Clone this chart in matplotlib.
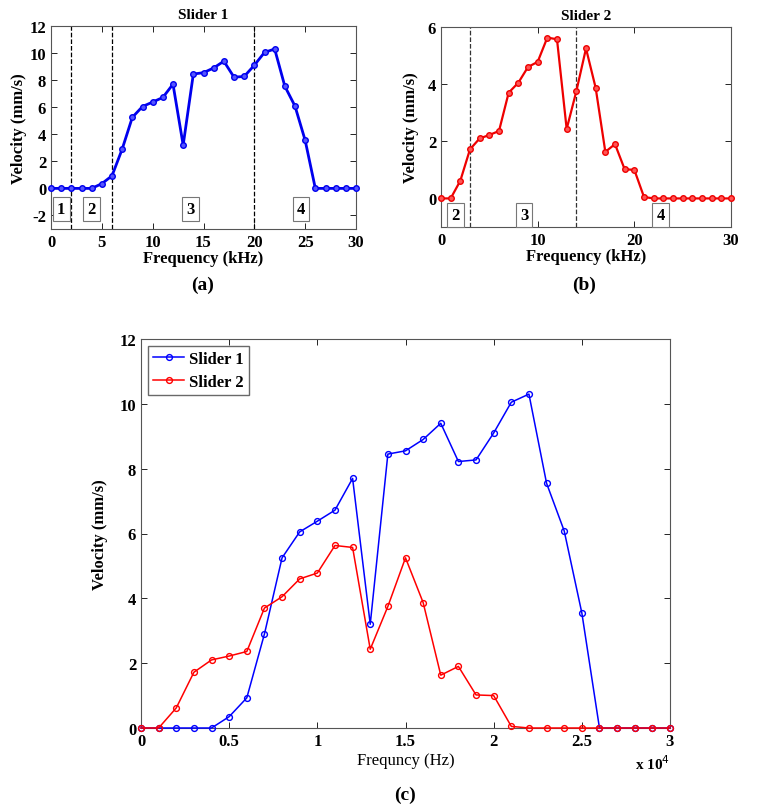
import numpy as np
import matplotlib.pyplot as plt

plt.rcParams['font.family'] = ['Liberation Serif', 'DejaVu Serif']
plt.rcParams['axes.unicode_minus'] = False

# frequency (kHz)
freq = np.arange(0, 31, 1)
slider1 = [0, 0, 0, 0, 0, 0.35, 0.93, 2.9, 5.25, 6.05, 6.38, 6.72, 7.7, 3.2, 8.45,
           8.55, 8.9, 9.4, 8.22, 8.27, 9.1, 10.05, 10.3, 7.55, 6.08, 3.55, 0, 0, 0, 0, 0]
slider2 = [0, 0, 0.62, 1.72, 2.1, 2.22, 2.36, 3.7, 4.05, 4.6, 4.78, 5.63, 5.57, 2.43,
           3.75, 5.25, 3.87, 1.63, 1.9, 1.02, 1.0, 0.05, 0, 0, 0, 0, 0, 0, 0, 0, 0]

s1_bounds = [2, 6, 20]
s1_regions = ['1', '2', '3', '4']
s1_region_x = [1, 4, 13.7, 24.6]
s2_bounds = [3, 14]
s2_regions = ['2', '3', '4']
s2_region_x = [1.5, 8.6, 22.7]

W, H = 767, 812
fig = plt.figure(figsize=(W / 100, H / 100), dpi=100)


def box(l, t, r, b):
    return [l / W, 1 - b / H, (r - l) / W, (b - t) / H]


def style(ax, fs):
    ax.tick_params(direction='in', top=True, right=True, labelsize=fs, length=4, width=0.6)
    for lab in ax.get_xticklabels() + ax.get_yticklabels():
        lab.set_fontweight('bold')
    for s in ax.spines.values():
        s.set_color('#555555')
        s.set_linewidth(0.8)


bbox = dict(boxstyle='square,pad=0.25', fc='white', ec='#777777', lw=0.8)

# (a) Slider 1
ax1 = fig.add_axes(box(51, 27, 356, 230))
ax1.plot(freq, slider1, '-o', color='#0000ee', lw=2, ms=4, mfc='#5555ff', mec='#0000ee',
         clip_on=False, zorder=3)
for b in s1_bounds:
    ax1.axvline(b, color='black', ls='--', lw=0.9)
for t, x in zip(s1_regions, s1_region_x):
    ax1.text(x, -1.5, t, ha='center', va='center', fontsize=12, fontweight='bold', bbox=bbox)
ax1.set_xlim(0, 30)
ax1.set_ylim(-3, 12)
ax1.set_xticks([0, 5, 10, 15, 20, 25, 30])
ax1.set_yticks([-2, 0, 2, 4, 6, 8, 10, 12])
ax1.set_title('Slider 1', fontsize=11, fontweight='bold', pad=6)
ax1.set_xlabel('Frequency (kHz)', fontsize=12, fontweight='bold', labelpad=0)
ax1.set_ylabel('Velocity (mm/s)', fontsize=12, fontweight='bold', labelpad=2)
style(ax1, 12)
fig.text(203 / W, 1 - 285 / H, '(a)', ha='center', va='center', fontsize=14, fontweight='bold')

# (b) Slider 2
ax2 = fig.add_axes(box(441, 28, 731, 228))
ax2.plot(freq, slider2, '-o', color='#ee0000', lw=1.6, ms=4, mfc='#ff5555', mec='#ee0000',
         clip_on=False, zorder=3)
for b in s2_bounds:
    ax2.axvline(b, color='#333333', ls='--', lw=0.9)
for t, x in zip(s2_regions, s2_region_x):
    ax2.text(x, -0.58, t, ha='center', va='center', fontsize=12, fontweight='bold', bbox=bbox)
ax2.set_xlim(0, 30)
ax2.set_ylim(-1, 6)
ax2.set_xticks([0, 10, 20, 30])
ax2.set_yticks([0, 2, 4, 6])
ax2.set_title('Slider 2', fontsize=11, fontweight='bold', pad=6)
ax2.set_xlabel('Frequency (kHz)', fontsize=12, fontweight='bold', labelpad=0)
ax2.set_ylabel('Velocity (mm/s)', fontsize=12, fontweight='bold', labelpad=6)
style(ax2, 12)
fig.text(584 / W, 1 - 285 / H, '(b)', ha='center', va='center', fontsize=14, fontweight='bold')

# (c) both sliders, frequency in Hz
freq_hz = freq * 1000
ax3 = fig.add_axes(box(141, 340, 670, 729))
ax3.plot(freq_hz, slider1, '-o', color='#0000ff', lw=1.1, ms=4.2, mfc='none', mec='#0000ff',
         label='Slider 1', clip_on=False, zorder=3)
ax3.plot(freq_hz, slider2, '-o', color='#ff0000', lw=1.1, ms=4.2, mfc='none', mec='#ff0000',
         label='Slider 2', clip_on=False, zorder=3)
ax3.set_xlim(0, 30000)
ax3.set_ylim(0, 12)
xt = [0, 5000, 10000, 15000, 20000, 25000, 30000]
ax3.set_xticks(xt)
ax3.set_xticklabels(['0', '0.5', '1', '1.5', '2', '2.5', '3'])
ax3.set_yticks([0, 2, 4, 6, 8, 10, 12])
ax3.set_xlabel('Frequncy (Hz)', fontsize=12, labelpad=2)
ax3.set_ylabel('Velocity (mm/s)', fontsize=12, fontweight='bold', labelpad=8)
style(ax3, 12)
fig.text(635 / W, 1 - 764 / H, 'x 10$^{4}$', fontsize=11, fontweight='bold', va='center')
leg = ax3.legend(loc='upper left', prop={'weight': 'bold', 'size': 12},
                 fancybox=False, edgecolor='#444444', handlelength=1.9,
                 borderpad=0.3, labelspacing=0.45, handletextpad=0.3,
                 borderaxespad=0.4)
leg.get_frame().set_linewidth(1.0)
fig.text(405 / W, 1 - 795 / H, '(c)', ha='center', va='center', fontsize=14, fontweight='bold')

fig.savefig('out.png', dpi=100)
